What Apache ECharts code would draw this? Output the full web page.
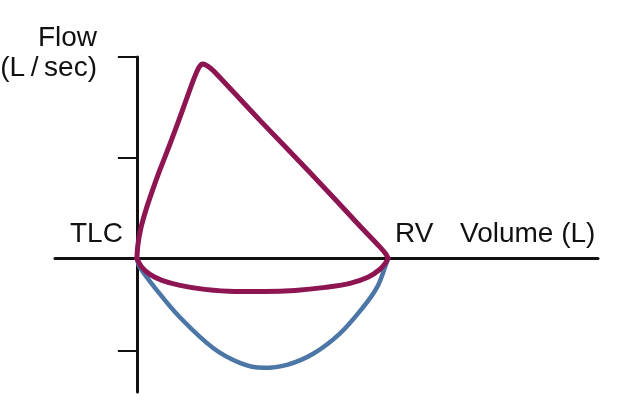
<!DOCTYPE html>
<html>
<head>
<meta charset="utf-8">
<script src="https://cdn.jsdelivr.net/npm/echarts@6/dist/echarts.min.js"></script>
<style>html,body{margin:0;padding:0;background:#fff;}#c{width:622px;height:410px;}</style>
</head>
<body>
<div id="c"></div>
<script>
// Volume (L) and flow (L/sec)
var expVolume = [0, 0.02, 0.08, 0.18, 0.30, 0.46, 0.64, 0.82, 1.00, 1.14, 1.24, 1.31, 1.41, 1.53, 2.45, 3.45, 4.44, 4.84, 4.96, 5.0];
var expFlow   = [0, 0.13, 0.30, 0.48, 0.66, 0.88, 1.11, 1.35, 1.60, 1.79, 1.90, 1.93, 1.91, 1.86, 1.37, 0.85, 0.32, 0.11, 0.04, 0];
var lowVolume = [0, 0.10, 0.26, 0.50, 0.86, 1.35, 1.95, 2.55, 3.15, 3.75, 4.24, 4.60, 4.84, 4.96, 5.0];
var lowFlow   = [0, -0.09, -0.16, -0.22, -0.27, -0.31, -0.33, -0.33, -0.32, -0.29, -0.25, -0.19, -0.11, -0.04, 0];
var inspVolume = [0, 0.06, 0.40, 0.86, 1.51, 2.05, 2.51, 2.99, 3.51, 4.04, 4.50, 4.78, 4.94, 5.0];
var inspFlow   = [0, -0.09, -0.32, -0.59, -0.89, -1.04, -1.09, -1.06, -0.95, -0.75, -0.49, -0.29, -0.09, 0];
var flowTicks = [2, 1, -0.92];
var labels = {flow: 'Flow', unit: '(L\u2009/\u2009sec)', tlc: 'TLC', rv: 'RV', volume: 'Volume (L)'};

function pairs(xs, ys) { return xs.map(function (x, i) { return [x, ys[i]]; }); }

var chart = echarts.init(document.getElementById('c'), null, {renderer: 'canvas'});
var font = '28px "Liberation Sans", Arial, sans-serif';
chart.setOption({
  animation: false,
  backgroundColor: '#fff',
  grid: {left: 55, right: 24, top: 57, bottom: 18},
  xAxis: {
    type: 'value', min: -1.63, max: 9.18,
    axisLine: {onZero: true, lineStyle: {color: '#111', width: 3}},
    axisTick: {show: false}, axisLabel: {show: false}, splitLine: {show: false}
  },
  yAxis: {
    type: 'value', min: -1.33, max: 2,
    axisLine: {show: true, onZero: true, lineStyle: {color: '#111', width: 3}},
    axisTick: {show: true, inside: false, length: 19, customValues: flowTicks, lineStyle: {color: '#111', width: 2}},
    axisLabel: {show: false}, splitLine: {show: false}
  },
  series: [
    {type: 'line', data: pairs(inspVolume, inspFlow), smooth: 0.35, showSymbol: false, clip: false,
     lineStyle: {color: '#4b76a6', width: 4.5, cap: 'round', join: 'round'}},
    {type: 'line', data: pairs(lowVolume, lowFlow), smooth: 0.35, showSymbol: false, clip: false,
     lineStyle: {color: '#8c1552', width: 5, cap: 'round', join: 'round'}},
    {type: 'line', data: pairs(expVolume, expFlow), smooth: 0.25, showSymbol: false, clip: false,
     lineStyle: {color: '#8c1552', width: 5, cap: 'round', join: 'round'}}
  ],
  graphic: [
    {type: 'text', style: {x: 97, y: 52, text: labels.flow, font: font, fill: '#111', textAlign: 'right', textVerticalAlign: 'bottom'}},
    {type: 'text', style: {x: 97, y: 82, text: labels.unit, font: font, fill: '#111', textAlign: 'right', textVerticalAlign: 'bottom'}},
    {type: 'text', style: {x: 70, y: 248, text: labels.tlc, font: font, fill: '#111', textAlign: 'left', textVerticalAlign: 'bottom'}},
    {type: 'text', style: {x: 395, y: 248, text: labels.rv, font: font, fill: '#111', textAlign: 'left', textVerticalAlign: 'bottom'}},
    {type: 'text', style: {x: 460, y: 248, text: labels.volume, font: font, fill: '#111', textAlign: 'left', textVerticalAlign: 'bottom'}}
  ]
});
</script>
</body>
</html>
